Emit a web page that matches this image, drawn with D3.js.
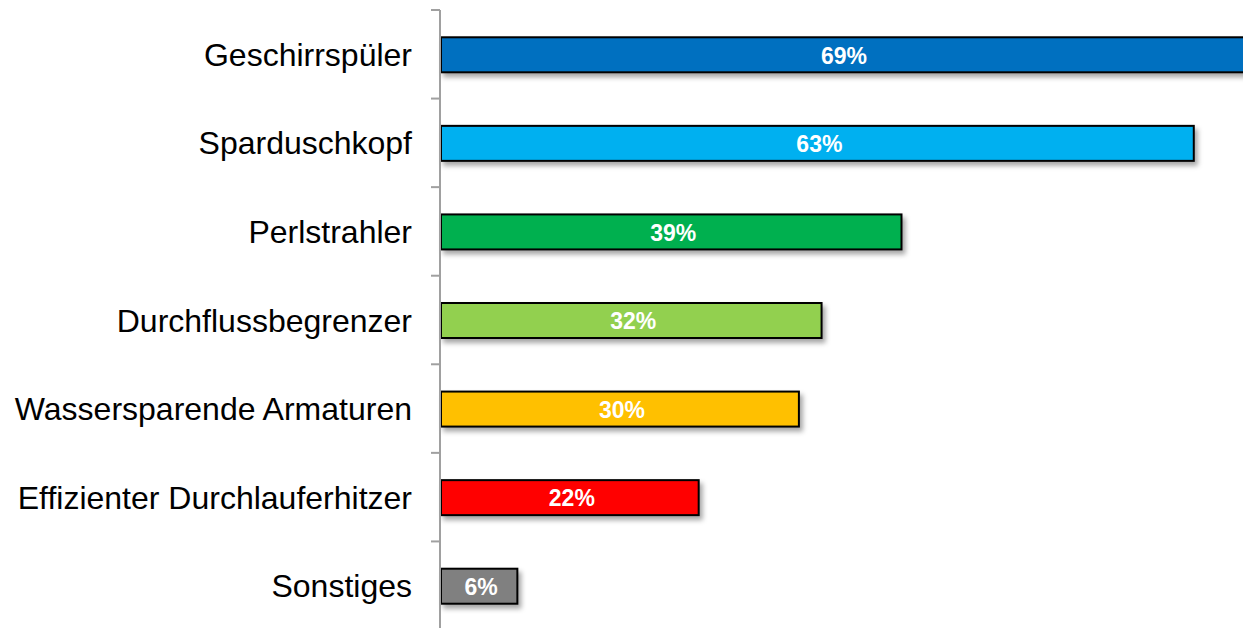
<html>
  <meta charset="UTF-8">
  <head>
    <title>Wassersparen</title>
    <style>
      body { margin: 0; background: #fff; }
      .cat text { font: 32px "Liberation Sans", Arial, sans-serif; fill: #000; }
      .val { font: bold 23px "Liberation Sans", Arial, sans-serif; fill: #fff; }
    </style>
    <script src="https://cdn.jsdelivr.net/npm/d3@7"></script>
  </head>
  <body>
    <script>
      // Data
      var categories = ["Geschirrspüler", "Sparduschkopf", "Perlstrahler", "Durchflussbegrenzer",
                        "Wassersparende Armaturen", "Effizienter Durchlauferhitzer", "Sonstiges"];
      var values = [69, 63.1, 38.6, 31.9, 30, 21.6, 6.4];
      var colors = ["#0070C0", "#00B0F0", "#00B050", "#92D050", "#FFC000", "#FF0000", "#808080"];

      var width = 1243, height = 628;
      var x0 = 441;

      var svg = d3.select("body").append("svg")
          .attr("width", width)
          .attr("height", height);

      var defs = svg.append("defs");
      var f = defs.append("filter").attr("id", "shadow")
          .attr("x", "-5%").attr("y", "-20%").attr("width", "120%").attr("height", "160%");
      f.append("feDropShadow")
          .attr("dx", 3).attr("dy", 4).attr("stdDeviation", 2.5)
          .attr("flood-color", "#000").attr("flood-opacity", 0.35);

      var x = d3.scaleLinear().domain([0, 100]).range([x0, x0 + 1193]);
      var band = d3.scaleBand().domain(categories).range([10, 630]);

      // bars
      svg.selectAll(".bar")
          .data(categories)
          .enter().append("rect")
          .attr("class", "bar")
          .attr("x", x(0))
          .attr("y", function(d) { return band(d) + band.bandwidth() / 2 - 17; })
          .attr("height", 35)
          .attr("width", function(d, i) { return x(values[i]) - x(0); })
          .attr("fill", function(d, i) { return colors[i]; })
          .attr("stroke", "#000")
          .attr("stroke-width", 2)
          .attr("filter", "url(#shadow)");

      // value labels, centred on the visible part of the bar
      svg.selectAll(".val")
          .data(categories)
          .enter().append("text")
          .attr("class", "val")
          .attr("x", function(d, i) { return (x(0) + Math.min(x(values[i]), width)) / 2 + 2; })
          .attr("y", function(d) { return band(d) + band.bandwidth() / 2 + 1; })
          .attr("dy", "0.36em")
          .attr("text-anchor", "middle")
          .text(function(d, i) { return d3.format(".0f")(values[i]) + "%"; });

      // axis with ticks between categories
      var ax = svg.append("g").attr("class", "cat");
      ax.append("line")
          .attr("x1", 440).attr("x2", 440)
          .attr("y1", 10).attr("y2", 630)
          .attr("stroke", "#a0a0a0").attr("stroke-width", 2);
      var edges = categories.map(function(d) { return band(d); });
      ax.selectAll(".tick")
          .data(edges)
          .enter().append("line")
          .attr("x1", 431).attr("x2", 440)
          .attr("y1", function(d) { return d; })
          .attr("y2", function(d) { return d; })
          .attr("stroke", "#a0a0a0").attr("stroke-width", 2);
      ax.selectAll("text")
          .data(categories)
          .enter().append("text")
          .attr("x", 412)
          .attr("y", function(d) { return band(d) + band.bandwidth() / 2; })
          .attr("dy", "0.36em")
          .attr("text-anchor", "end")
          .text(function(d) { return d; });
    </script>
  </body>
</html>
